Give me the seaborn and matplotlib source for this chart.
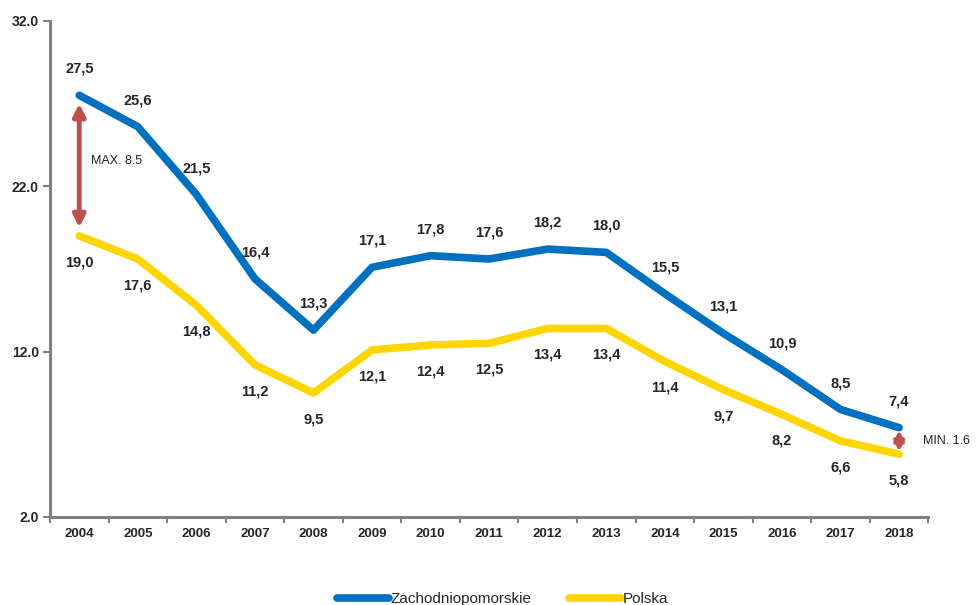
import numpy as np
import pandas as pd
import seaborn as sns
from matplotlib import pyplot as plt
from matplotlib.lines import Line2D

years = ['2004', '2005', '2006', '2007', '2008', '2009', '2010', '2011',
         '2012', '2013', '2014', '2015', '2016', '2017', '2018']
zachodniopomorskie = [27.5, 25.6, 21.5, 16.4, 13.3, 17.1, 17.8, 17.6,
                      18.2, 18.0, 15.5, 13.1, 10.9, 8.5, 7.4]
polska = [19.0, 17.6, 14.8, 11.2, 9.5, 12.1, 12.4, 12.5,
          13.4, 13.4, 11.4, 9.7, 8.2, 6.6, 5.8]
y_ticks = [2.0, 12.0, 22.0, 32.0]

BLUE = '#0070C0'
YELLOW = '#FFD500'
RED = '#C0504D'
GREY = '#808080'


def fmt(v):
    return f'{v:.1f}'.replace('.', ',')


if __name__ == '__main__':
    sns.set_style('white')
    plt.rcParams['font.family'] = ['Liberation Sans', 'DejaVu Sans']

    df = pd.DataFrame({
        'rok': years * 2,
        'wartosc': zachodniopomorskie + polska,
        'seria': ['Zachodniopomorskie'] * len(years) + ['Polska'] * len(years),
    })
    df['x'] = list(range(len(years))) * 2

    fig = plt.figure(figsize=(9.76, 6.05), dpi=100)
    ax = fig.add_axes([0.0512, 0.1455, 0.9, 0.82])

    sns.lineplot(data=df, x='x', y='wartosc', hue='seria',
                 palette={'Zachodniopomorskie': BLUE, 'Polska': YELLOW},
                 linewidth=5.5, legend=False, ax=ax,
                 hue_order=['Polska', 'Zachodniopomorskie'])

    for i, v in enumerate(zachodniopomorskie):
        ax.annotate(fmt(v), (i, v), xytext=(0, 14), textcoords='offset points',
                    ha='center', va='bottom', fontsize=10.5, fontweight='bold')
    for i, v in enumerate(polska):
        ax.annotate(fmt(v), (i, v), xytext=(0, -14), textcoords='offset points',
                    ha='center', va='top', fontsize=10.5, fontweight='bold')

    # roznica max / min
    diffs = np.array(zachodniopomorskie) - np.array(polska)
    i_max = int(np.argmax(diffs))
    i_min = int(np.argmin(diffs))
    ax.annotate('', xy=(i_max, polska[i_max] + 0.5), xytext=(i_max, zachodniopomorskie[i_max] - 0.5),
                arrowprops=dict(arrowstyle='<|-|>', color=RED, lw=3.5, mutation_scale=18,
                                shrinkA=0, shrinkB=0))
    ax.text(i_max + 0.2, (zachodniopomorskie[i_max] + polska[i_max]) / 2 + 0.3,
            f'MAX. {diffs[i_max]:.1f}', fontsize=9, va='center', ha='left', color='#222222')
    ax.annotate('', xy=(i_min, polska[i_min] + 0.15), xytext=(i_min, zachodniopomorskie[i_min] - 0.15),
                arrowprops=dict(arrowstyle='<|-|>', color=RED, lw=3, mutation_scale=14,
                                shrinkA=0, shrinkB=0))
    ax.text(i_min + 0.4, (zachodniopomorskie[i_min] + polska[i_min]) / 2,
            f'MIN. {diffs[i_min]:.1f}', fontsize=9, va='center', ha='left', color='#222222',
            clip_on=False)

    ax.set_xlim(-0.5, len(years) - 0.5)
    ax.set_ylim(2, 32)
    ax.set_yticks(y_ticks)
    ax.set_yticklabels([f'{t:.1f}' for t in y_ticks], fontweight='bold', fontsize=10)
    ax.set_xticks(range(len(years)))
    ax.set_xticklabels(years, fontweight='bold', fontsize=9.5)
    ax.set_xticks(np.arange(-0.5, len(years), 1.0), minor=True)
    ax.tick_params(axis='x', which='major', length=0, pad=8)
    ax.tick_params(axis='x', which='minor', length=4, width=1.5, color=GREY, direction='out', bottom=True)
    ax.tick_params(axis='y', length=5, width=1.5, color=GREY, direction='out', left=True, pad=3)
    ax.set_xlabel('')
    ax.set_ylabel('')

    for side in ['top', 'right']:
        ax.spines[side].set_visible(False)
    for side in ['left', 'bottom']:
        ax.spines[side].set_color(GREY)
        ax.spines[side].set_linewidth(2.2)

    handles = [Line2D([0], [0], color=BLUE, lw=5.5, solid_capstyle='round'),
               Line2D([0], [0], color=YELLOW, lw=5.5, solid_capstyle='round')]
    fig.legend(handles, ['Zachodniopomorskie', 'Polska'], loc='lower center',
               bbox_to_anchor=(0.515, -0.025), ncol=2, frameon=False, fontsize=11,
               handlelength=3.4, handletextpad=0.1, columnspacing=2.5)

    plt.savefig('out.png', dpi=100)
    plt.close()
